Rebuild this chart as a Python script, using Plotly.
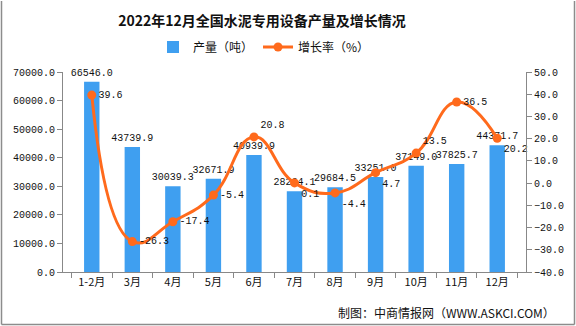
import plotly.graph_objects as go

categories = ["1-2月", "3月", "4月", "5月", "6月", "7月", "8月", "9月", "10月", "11月", "12月"]
output_t = [66546.0, 43739.9, 30039.3, 32671.9, 40939.9, 28264.1, 29684.5, 33251.0, 37149.0, 37825.7, 44371.7]
growth = [39.6, -26.3, -17.4, -5.4, 20.8, 0.1, -4.4, 4.7, 13.5, 36.5, 20.2]
growth_pos = ["middle right", "middle right", "middle right", "middle right", "top right",
              "bottom right", "bottom right", "bottom right", "top right", "middle right", "bottom right"]

FONT = "Noto Sans CJK SC"
MONO = "Liberation Mono, Noto Sans CJK SC"
BLUE = "#3F9FF0"
ORANGE = "#FF6A1C"

fig = go.Figure()
fig.add_trace(go.Bar(
    x=categories, y=output_t, name="产量（吨）",
    marker=dict(color=BLUE, line=dict(width=0)), width=0.38,
    text=[f"{v:.1f}" for v in output_t], textposition="outside", constraintext="none",
    textfont=dict(size=10, color="#111111", family=MONO), cliponaxis=False,
))
fig.add_trace(go.Scatter(
    x=categories, y=growth, name="增长率（%）", yaxis="y2",
    mode="lines+markers+text",
    line=dict(color=ORANGE, width=3, shape="spline", smoothing=1.3),
    marker=dict(color=ORANGE, size=9),
    text=[f"{v:.1f}" for v in growth], textposition=growth_pos,
    textfont=dict(size=10, color="#111111", family=MONO), cliponaxis=False,
))

ml, mr, mt, mb = 63, 50, 72, 54
W, H = 576, 326
pw, ph = W - ml - mr, H - mt - mb

def px_x(px):
    return (px - ml) / pw

def px_y(py):
    return (H - mb - py) / ph

fig.update_layout(
    width=W, height=H,
    margin=dict(l=ml, r=mr, t=mt, b=mb),
    paper_bgcolor="white", plot_bgcolor="white",
    font=dict(family=FONT, size=11, color="#111111"),
    title=dict(text="<b>2022年12月全国水泥专用设备产量及增长情况</b>", x=262 / W, xanchor="center",
               y=1 - 21 / H, yanchor="middle", font=dict(size=14, color="#111111", family=FONT)),
    showlegend=True,
    legend=dict(orientation="h", x=px_x(264), xanchor="center", y=px_y(47), yanchor="middle",
                font=dict(size=12, family=FONT), itemwidth=30, traceorder="normal"),
    xaxis=dict(type="category", showline=True, linecolor="#888888", linewidth=1,
               ticks="outside", tickson="boundaries", ticklen=5, tickcolor="#888888",
               showgrid=False, tickfont=dict(size=11, family=FONT)),
    yaxis=dict(range=[0, 70000], dtick=10000, tickformat=".1f", showline=True, linecolor="#888888",
               ticks="outside", ticklen=5, tickcolor="#888888", showgrid=False, zeroline=False,
               tickfont=dict(size=10, family=MONO)),
    yaxis2=dict(range=[-40, 50], dtick=10, tickformat=".1f", overlaying="y", side="right",
                showline=True, linecolor="#888888", ticks="outside", ticklen=5, tickcolor="#888888",
                showgrid=False, zeroline=False, tickfont=dict(size=10, family=MONO)),
)

# outer frame (left, bottom, right edges)
frame = dict(color="#8c8c8c", width=1.5)
fig.add_shape(type="line", xref="paper", yref="paper", x0=px_x(1.5), x1=px_x(1.5),
              y0=px_y(1), y1=px_y(324.5), line=frame)
fig.add_shape(type="line", xref="paper", yref="paper", x0=px_x(1.5), x1=px_x(574.5),
              y0=px_y(324.5), y1=px_y(324.5), line=frame)
fig.add_shape(type="line", xref="paper", yref="paper", x0=px_x(574.5), x1=px_x(574.5),
              y0=px_y(1), y1=px_y(324.5), line=frame)

fig.add_annotation(text="制图：中商情报网（WWW.ASKCI.COM）", xref="paper", yref="paper",
                   x=px_x(557), xanchor="right", y=px_y(312), yanchor="middle",
                   showarrow=False, font=dict(size=12, family=FONT, color="#111111"))

fig.write_html("out.html")
